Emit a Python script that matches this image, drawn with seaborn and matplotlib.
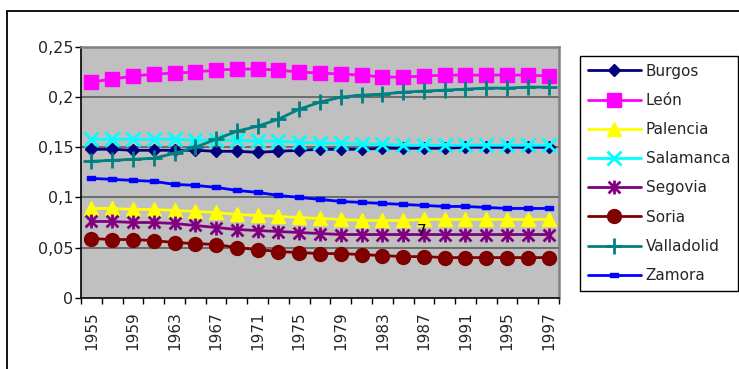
import numpy as np
import pandas as pd
import matplotlib
matplotlib.use("Agg")
import matplotlib.pyplot as plt
import seaborn as sns
from matplotlib.path import Path
from matplotlib.patches import Rectangle

# ---------------- data ----------------
years = [str(y) for y in range(1955, 1997, 2)] + ["1996", "1997"]

burgos = [0.148, 0.148, 0.147, 0.147, 0.147, 0.147, 0.146, 0.146, 0.145, 0.146, 0.147, 0.148,
          0.148, 0.148, 0.149, 0.149, 0.149, 0.149, 0.150, 0.150, 0.150, 0.150, 0.150]
leon = [0.215, 0.218, 0.221, 0.223, 0.224, 0.225, 0.227, 0.228, 0.228, 0.227, 0.225, 0.224,
        0.223, 0.222, 0.220, 0.220, 0.221, 0.222, 0.222, 0.222, 0.222, 0.222, 0.221]
palencia = [0.089, 0.089, 0.088, 0.088, 0.087, 0.086, 0.085, 0.083, 0.082, 0.081, 0.080, 0.079,
            0.078, 0.077, 0.077, 0.077, 0.078, 0.078, 0.078, 0.078, 0.078, 0.078, 0.078]
salamanca = [0.158, 0.158, 0.158, 0.158, 0.158, 0.157, 0.157, 0.157, 0.156, 0.156, 0.155, 0.154,
             0.154, 0.153, 0.153, 0.152, 0.152, 0.152, 0.152, 0.152, 0.152, 0.152, 0.152]
segovia = [0.076, 0.076, 0.075, 0.075, 0.074, 0.072, 0.070, 0.068, 0.067, 0.066, 0.065, 0.064,
           0.063, 0.063, 0.063, 0.063, 0.063, 0.063, 0.063, 0.063, 0.063, 0.063, 0.063]
soria = [0.059, 0.058, 0.058, 0.057, 0.055, 0.054, 0.053, 0.050, 0.048, 0.046, 0.045, 0.044,
         0.044, 0.043, 0.042, 0.041, 0.041, 0.040, 0.040, 0.040, 0.040, 0.040, 0.040]
valladolid = [0.136, 0.137, 0.138, 0.139, 0.144, 0.150, 0.158, 0.166, 0.171, 0.178, 0.188, 0.195,
              0.200, 0.202, 0.203, 0.205, 0.206, 0.207, 0.208, 0.209, 0.209, 0.210, 0.210]
zamora = [0.119, 0.118, 0.117, 0.116, 0.113, 0.112, 0.110, 0.107, 0.105, 0.102, 0.100, 0.098,
          0.096, 0.095, 0.094, 0.093, 0.092, 0.091, 0.091, 0.090, 0.089, 0.089, 0.089]

series_names = ["Burgos", "León", "Palencia", "Salamanca", "Segovia", "Soria", "Valladolid", "Zamora"]
series_values = [burgos, leon, palencia, salamanca, segovia, soria, valladolid, zamora]
ytick_values = [0, 0.05, 0.1, 0.15, 0.2, 0.25]
ytick_labels = ["0", "0,05", "0,1", "0,15", "0,2", "0,25"]

# ---------------- styles ----------------
asterisk = Path([(-0.85, -0.85), (0.85, 0.85), (-0.85, 0.85), (0.85, -0.85), (0, -1), (0, 1)],
                [Path.MOVETO, Path.LINETO, Path.MOVETO, Path.LINETO, Path.MOVETO, Path.LINETO])
dash_rect = Path([(-1, -0.55), (1, -0.55), (1, 0.55), (-1, 0.55), (-1, -0.55)],
                 [Path.MOVETO, Path.LINETO, Path.LINETO, Path.LINETO, Path.CLOSEPOLY])

styles = {
    "Burgos":     dict(color="#000080", marker="D", ms=6.0, mew=1, mfc="#000080"),
    "León":       dict(color="#FF00FF", marker="s", ms=10.5, mew=1, mfc="#FF00FF"),
    "Palencia":   dict(color="#FFFF00", marker="^", ms=10.5, mew=1, mfc="#FFFF00"),
    "Salamanca":  dict(color="#00FFFF", marker="x", ms=10.5, mew=2, mfc="#00FFFF"),
    "Segovia":    dict(color="#800080", marker=asterisk, ms=10, mew=2, mfc="none"),
    "Soria":      dict(color="#800000", marker="o", ms=10, mew=1, mfc="#800000"),
    "Valladolid": dict(color="#008080", marker="+", ms=12, mew=2, mfc="#008080"),
    "Zamora":     dict(color="#0000FF", marker=dash_rect, ms=6, mew=1, mfc="#0000FF"),
}

sns.set_theme(style="white")
plt.rcParams["font.family"] = ["DejaVu Sans"]

W, H = 739, 369
fig = plt.figure(figsize=(W / 100, H / 100), dpi=100)
fig.patch.set_facecolor("white")

ax_l, ax_r, ax_t, ax_b = 81, 559, 47, 297.7
ax = fig.add_axes([ax_l / W, 1 - ax_b / H, (ax_r - ax_l) / W, (ax_b - ax_t) / H])
ax.set_facecolor("#C0C0C0")

idx = np.arange(len(years))
for name, vals in zip(series_names, series_values):
    st = styles[name]
    df = pd.DataFrame({"idx": idx, "value": vals})
    sns.lineplot(data=df, x="idx", y="value", ax=ax, color=st["color"], lw=2.0,
                 marker=st["marker"], markersize=st["ms"], markeredgewidth=st["mew"],
                 markeredgecolor=st["color"], markerfacecolor=st["mfc"],
                 label=name, errorbar=None, sort=False, zorder=3)

# axes limits and grid
ax.set_xlim(-0.5, len(years) - 0.5)
ax.set_ylim(0, 0.25)
for v in [0.05, 0.1, 0.15, 0.2]:
    ax.axhline(v, color="#666666", lw=1.3, zorder=1)

ax.set_yticks(ytick_values)
ax.set_yticklabels(ytick_labels)
ax.tick_params(axis="y", which="major", direction="out", length=4, width=1, color="black",
               labelsize=11.5, pad=1.5, left=True)

ax.set_xticks(np.arange(-0.5, len(years) + 0.5, 1.0))
ax.set_xticklabels([])
ax.tick_params(axis="x", which="major", direction="out", length=4, width=1, color="black", bottom=True)
ax.set_xticks(idx[::2], minor=True)
ax.set_xticklabels([years[i] for i in idx[::2]], minor=True, rotation=90)
ax.tick_params(axis="x", which="minor", length=0, labelsize=11, pad=10)
for lab in ax.get_xticklabels(minor=True):
    lab.set_va("top")

ax.set_xlabel("")
ax.set_ylabel("")

for s in ["left", "bottom"]:
    ax.spines[s].set_color("black")
    ax.spines[s].set_linewidth(1.2)
for s in ["top", "right"]:
    ax.spines[s].set_color("#808080")
    ax.spines[s].set_linewidth(1.8)
    ax.spines[s].set_visible(True)

# legend
handles, labels = ax.get_legend_handles_labels()
if ax.legend_:
    ax.legend_.remove()
leg = fig.legend(handles, labels, loc="upper left", bbox_to_anchor=(580 / W, 1 - 56 / H),
                 frameon=True, fancybox=False, fontsize=11, handlelength=3.5,
                 handletextpad=0.3, labelspacing=0.93, borderpad=0.5, borderaxespad=0)
leg.get_frame().set_edgecolor("black")
leg.get_frame().set_linewidth(1.0)
leg.get_frame().set_facecolor("white")
leg.get_frame().set_alpha(1)

# stray label in the reference
fig.text(421.7 / W, 1 - 231.7 / H, "7", ha="center", va="center", fontsize=11, color="black")

# outer chart border
fig.add_artist(Rectangle((7 / W, -0.2), 1.2, 1.2 - 11 / H, transform=fig.transFigure,
                         fill=False, ec="black", lw=1.3))

fig.savefig("out.png", dpi=100)
